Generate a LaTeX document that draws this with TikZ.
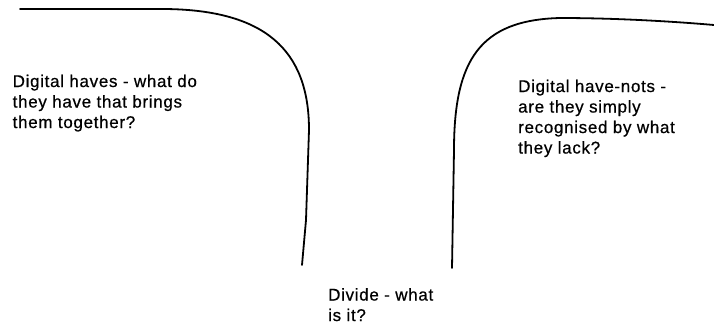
\documentclass[tikz,border=0pt]{standalone}
\usepackage{fontspec}
\setmainfont{Liberation Sans}[LetterSpace=4,FakeBold=0.6]
\begin{document}
\begin{tikzpicture}[x=1pt,y=-1pt,
  curve/.style={line width=1.8pt,black,line cap=round,line join=round},
  label/.style={anchor=north west,inner sep=0pt,align=left,font=\fontsize{17}{20.5}\selectfont}]
\useasboundingbox (0,0) rectangle (714,325);
% left curve
\draw[curve] (20,9) -- (165,9) .. controls (265,10) and (309,50) .. (309,130) -- (306,220) -- (302,265);
% right curve
\draw[curve] (452,268) -- (454,150) .. controls (454,60) and (480,20) .. (560,18) .. controls (620,18) and (680,22) .. (714,25);
\node[label] (haves) at (12.5,74.5) {Digital haves - what do\\they have that brings\\them together?};
\node[label] (havenots) at (518,79.5) {Digital have-nots -\\are they simply\\recognised by what\\they lack?};
\node[label] (divide) at (328,288) {Divide - what\\is it?};
\end{tikzpicture}
\end{document}
